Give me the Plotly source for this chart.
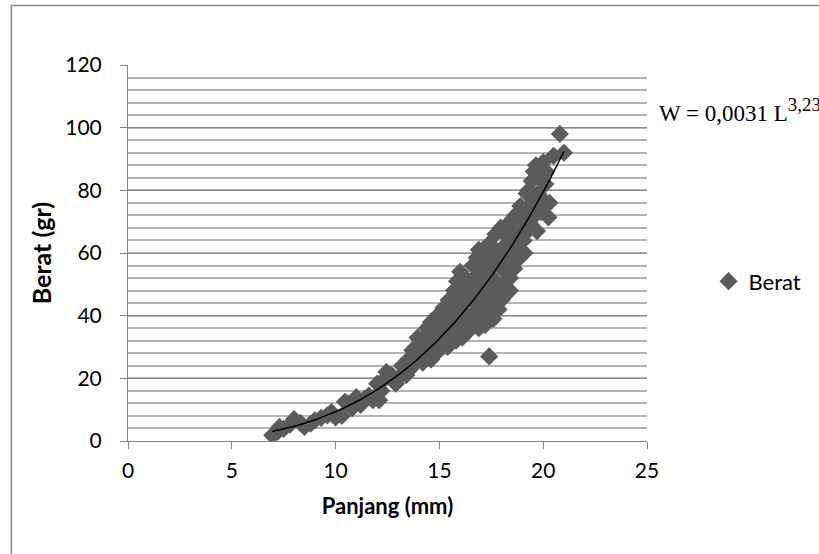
import numpy as np
import plotly.graph_objects as go

# Panjang (mm) readings, grouped by length band
panjang = (
    [6.95, 7.2, 7.3, 7.5, 7.8, 8.0, 8.3, 8.5, 8.8, 9.0, 9.3, 9.6, 9.8, 10.0, 10.3, 10.45,
     10.6, 10.8, 11.0, 11.2, 11.4, 11.6, 11.8, 12.0, 12.1, 12.2, 12.4, 12.45, 12.7, 12.9, 13.0]
    + [13.2, 13.4, 13.5, 13.6, 13.7, 13.8, 13.95, 14.0]
    + [14.1, 14.2, 14.3, 14.4, 14.4, 14.5, 14.6, 14.6, 14.7, 14.8, 14.9, 14.9, 15.0, 15.2, 15.0]
    + [15.1, 15.45, 15.2, 15.3, 15.7, 15.4, 15.5, 15.5, 15.6, 15.8, 15.85, 15.8, 15.8, 15.9,
       16.0, 16.0, 16.0, 16.1]
    + [16.1, 16.2, 16.25, 16.3, 16.4, 16.6, 16.4, 16.5, 16.5, 16.7, 16.8, 16.7, 16.8, 16.9,
       16.9, 16.9, 17.0, 17.1, 17.1, 17.0]
    + [17.2, 17.2, 17.2, 17.4, 17.4, 17.4, 17.4, 17.6, 17.4, 17.6, 17.7, 17.6, 17.8, 17.8,
       17.7, 17.85, 18.0, 17.95, 18.1, 18.1, 18.0]
    + [18.3, 18.4, 18.4, 18.3, 18.1, 18.4, 18.6, 18.5, 18.6, 18.65, 18.8, 18.8, 18.9, 18.9,
       19.2, 19.1, 19.1, 19.1]
    + [19.3, 19.05, 19.3, 19.4, 19.5, 19.45, 19.55, 19.6, 19.65, 19.75, 19.85, 20.0, 20.0,
       20.1, 20.25, 20.15, 20.3, 19.9, 19.7, 20.5, 20.8, 21.0]
)
# Berat (gr) readings, same order
berat = (
    [1.8, 2.9, 4.5, 3.9, 5.2, 7.0, 5.8, 4.5, 5.5, 6.6, 7.4, 8.2, 9.2, 7.5, 8.0, 12.5,
     11.9, 10.5, 14.0, 11.5, 13.5, 14.5, 13.0, 18.3, 13.0, 16.0, 20.0, 22.0, 21.0, 18.3, 20.0]
    + [24, 21, 26, 23, 29, 25, 33, 27]
    + [30, 25, 33, 36, 28, 31, 38, 26, 35, 29, 40, 33, 37, 42.5, 29]
    + [31, 45, 35, 39, 48, 30, 33, 42, 37, 45, 51, 32, 40, 35,
       43, 54, 38, 48]
    + [33, 41, 52, 37, 46, 56, 35, 40, 50, 44, 58.5, 38, 53, 61,
       47, 36, 42, 56, 50, 39]
    + [45, 60, 37, 53, 48, 41, 27, 57, 63, 44, 51, 39, 60, 47,
       66, 42, 55, 68, 50, 62, 45]
    + [58, 52, 48, 65, 46, 70, 55, 61, 67, 72, 58, 63, 75, 68,
       79, 60, 71, 66]
    + [74, 64, 80, 69, 76, 83, 86, 72, 88, 79, 84, 89, 77,
       82, 71.4, 86, 76, 73, 67, 91, 98, 92]
)
n = min(len(panjang), len(berat))
panjang, berat = panjang[:n], berat[:n]

x_ticks = [0, 5, 10, 15, 20, 25]
y_ticks = [0, 20, 40, 60, 80, 100, 120]

# Power trendline fitted (log-log least squares) to the data
b_exp, ln_a = np.polyfit(np.log(panjang), np.log(berat), 1)
a_coef = np.exp(ln_a)
L_fit = np.linspace(min(panjang), max(panjang), 200)
W_fit = a_coef * L_fit ** b_exp

fig = go.Figure()
fig.add_trace(go.Scatter(
    x=panjang, y=berat, mode="markers", name="Berat",
    marker=dict(symbol="diamond", size=14, color="#5b5b5b", line=dict(width=0)),
))
fig.add_trace(go.Scatter(
    x=L_fit, y=W_fit, mode="lines", showlegend=False,
    line=dict(color="black", width=1.5),
))

L_px, R_px, T_px, B_px = 128, 651, 64.5, 440.7
W_fig, H_fig = 819, 554
pw, ph = R_px - L_px, B_px - T_px

def px_x(p):
    return (p - L_px) / pw

def px_y(p):
    return (B_px - p) / ph

font_main = "Lato, Carlito, Calibri, sans-serif"

fig.update_layout(
    width=W_fig, height=H_fig,
    margin=dict(l=L_px, r=W_fig - R_px, t=T_px, b=H_fig - B_px, pad=0),
    paper_bgcolor="white", plot_bgcolor="white",
    font=dict(family=font_main, size=21, color="black"),
    showlegend=True,
    legend=dict(x=px_x(713), y=px_y(281), xanchor="left", yanchor="middle",
                font=dict(family=font_main, size=22, color="black"),
                bgcolor="rgba(0,0,0,0)", borderwidth=0),
    xaxis=dict(
        range=[0, 25], tickvals=x_ticks, ticktext=[str(v) for v in x_ticks],
        showgrid=False, zeroline=False,
        showline=True, linecolor="#868686", linewidth=1,
        ticks="outside", ticklen=7, tickcolor="#868686", tickwidth=1,
        ticklabelstandoff=4,
        tickfont=dict(family=font_main, size=21),
        title=dict(text="<b>Panjang (mm)</b>", font=dict(family=font_main, size=22), standoff=17),
    ),
    yaxis=dict(
        range=[0, 120], tickvals=y_ticks, ticktext=[str(v) for v in y_ticks],
        showgrid=True, gridcolor="#8c8c8c", gridwidth=1.2, zeroline=False,
        showline=True, linecolor="#868686", linewidth=1,
        ticks="outside", ticklen=7, tickcolor="#868686", tickwidth=1,
        ticklabelstandoff=14,
        tickfont=dict(family=font_main, size=21),
        minor=dict(dtick=4, showgrid=True, gridcolor="#b4b4b4", gridwidth=1.5, ticks=""),
        title=dict(text="<b>Berat (gr)</b>", font=dict(family=font_main, size=25), standoff=6),
    ),
    shapes=[
        dict(type="rect", xref="paper", yref="paper",
             x0=px_x(10.5), x1=px_x(840), y0=px_y(570), y1=px_y(5),
             line=dict(color="#8a8a8a", width=1.5), fillcolor="rgba(0,0,0,0)", layer="below"),
    ],
    annotations=[
        dict(xref="paper", yref="paper", x=px_x(661), y=px_y(110),
             xanchor="left", yanchor="middle", showarrow=False,
             text="W = 0,0031 L<sup><span style='font-size:19px'>3,23</span></sup>",
             font=dict(family="Liberation Serif, Times New Roman, serif", size=23, color="black")),
    ],
)

fig.write_html("out.html")
